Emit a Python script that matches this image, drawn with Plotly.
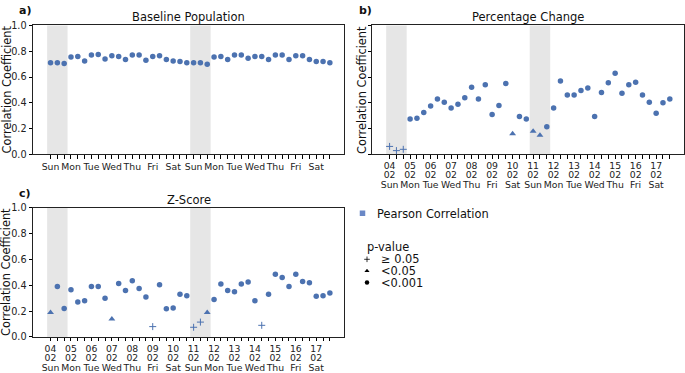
import plotly.graph_objects as go

W, H = 685, 373

# ---- data ----
day_names = ["Sun", "Mon", "Tue", "Wed", "Thu", "Fri", "Sat",
             "Sun", "Mon", "Tue", "Wed", "Thu", "Fri", "Sat"]
day_dates = ["04", "05", "06", "07", "08", "09", "10",
             "11", "12", "13", "14", "15", "16", "17"]
month = "02"
slots_per_day = 3
weekend_days = [0, 7]  # Sundays (shaded)

baseline = [0.71, 0.71, 0.705, 0.755, 0.76, 0.725, 0.77, 0.775, 0.74, 0.765,
            0.76, 0.735, 0.77, 0.77, 0.73, 0.76, 0.765, 0.735, 0.725, 0.72,
            0.71, 0.71, 0.71, 0.70, 0.755, 0.76, 0.735, 0.77, 0.77, 0.745,
            0.76, 0.76, 0.735, 0.77, 0.77, 0.735, 0.765, 0.765, 0.735, 0.72,
            0.72, 0.71]
baseline_p = ["p001"] * 42

pct_change = [0.0625, 0.03, 0.04, 0.275, 0.28, 0.325, 0.375, 0.43, 0.405, 0.36,
              0.39, 0.44, 0.52, 0.43, 0.54, 0.31, 0.38, 0.55, 0.16, 0.295,
              0.275, 0.18, 0.15, 0.215, 0.36, 0.57, 0.46, 0.46, 0.495, 0.515,
              0.295, 0.48, 0.555, 0.63, 0.475, 0.54, 0.56, 0.46, 0.405, 0.32,
              0.40, 0.43]
pct_change_p = (["ns"] * 3 + ["p001"] * 15 + ["p05"] + ["p001"] * 2 + ["p05"] * 2
                + ["p001"] * 19)

zscore = [0.19, 0.39, 0.22, 0.365, 0.27, 0.28, 0.39, 0.39, 0.30, 0.14,
          0.415, 0.36, 0.435, 0.375, 0.31, 0.08, 0.405, 0.2175, 0.225, 0.33,
          0.32, 0.075, 0.115, 0.19, 0.29, 0.41, 0.36, 0.35, 0.41, 0.425,
          0.28, 0.09, 0.33, 0.485, 0.46, 0.39, 0.485, 0.43, 0.42, 0.315,
          0.32, 0.34]
zscore_p = ["p05", "p001", "p001", "p001", "p001", "p001", "p001", "p001", "p001", "p05",
            "p001", "p001", "p001", "p001", "p001", "ns", "p001", "p001", "p001", "p001",
            "p001", "ns", "ns", "p05", "p001", "p001", "p001", "p001", "p001", "p001",
            "p001", "ns", "p001", "p001", "p001", "p001", "p001", "p001", "p001", "p001",
            "p001", "p001"]

legend_labels = {"ns": "\u2265 0.05", "p05": "<0.05", "p001": "<0.001"}

# ---- style ----
FONT = "DejaVu Sans"
BLUE = "#4c72b0"
SHADE = "#e6e6e6"
SYMBOLS = {"ns": "cross-thin", "p05": "triangle-up", "p001": "circle"}
SIZES = {"ns": 5, "p05": 6, "p001": 5.5}

def fx(p):
    return p / W

def fy(p):
    return 1 - p / H

n = len(baseline)
xs = list(range(n))

fig = go.Figure()

def add_series(vals, pcat, xa, ya):
    for cat in ["p001", "p05", "ns"]:
        px = [x for x, c in zip(xs, pcat) if c == cat]
        py = [v for v, c in zip(vals, pcat) if c == cat]
        if not px:
            continue
        mk = dict(symbol=SYMBOLS[cat], size=SIZES[cat], color=BLUE)
        if cat == "ns":
            mk["line"] = dict(color=BLUE, width=1)
        else:
            mk["line"] = dict(width=0)
        fig.add_trace(go.Scatter(x=px, y=py, mode="markers", marker=mk,
                                 xaxis=xa, yaxis=ya, showlegend=False,
                                 hoverinfo="x+y"))

add_series(baseline, baseline_p, "x", "y")
add_series(pct_change, pct_change_p, "x2", "y2")
add_series(zscore, zscore_p, "x3", "y3")

# helper traces so the extra label-row axes get drawn
for xa, ya in [("x5", "y2"), ("x6", "y2"), ("x7", "y3"), ("x8", "y3")]:
    fig.add_trace(go.Scatter(x=[None], y=[None], mode="markers", xaxis=xa, yaxis=ya,
                             showlegend=False, hoverinfo="skip"))

# tick label rows
def rows(labels):
    out = []
    for i in xs:
        out.append(labels[i // slots_per_day] if i % slots_per_day == 0 else "")
    return out

row_dates = rows(day_dates)
row_month = rows([month] * len(day_dates))
row_days = rows(day_names)

xr = [-2.575, 43.075]
TICKFONT = dict(family=FONT, size=9.3, color="#222")
common_x = dict(range=xr, tickmode="array", tickvals=xs, ticks="outside",
                ticklen=3.5, tickwidth=0.8, tickcolor="black", showline=True,
                linecolor="#222", linewidth=0.9, mirror=True, showgrid=False,
                zeroline=False, tickfont=TICKFONT, tickangle=0, fixedrange=True)
common_y = dict(range=[0, 1], tickmode="array", tickvals=[0, 0.2, 0.4, 0.6, 0.8, 1.0],
                tickformat=".1f", ticks="outside", ticklen=3.5, tickwidth=0.8,
                tickcolor="black", showline=True, linecolor="#222", linewidth=0.9,
                mirror=True, showgrid=False, zeroline=False,
                tickfont=dict(family=FONT, size=9.7, color="#222"), fixedrange=True)

def overlay_x(base, ya, dom, text, standoff):
    return dict(range=xr, tickmode="array", tickvals=xs, ticktext=text,
                ticks="outside", ticklen=3.5, tickcolor="rgba(0,0,0,0)",
                showline=False, showgrid=False, zeroline=False, tickfont=TICKFONT,
                tickangle=0, overlaying=base, anchor=ya, side="bottom",
                domain=dom, ticklabelstandoff=standoff, fixedrange=True)

ax_a = [fx(33), fx(344)]
ax_b = [fx(372), fx(684)]
ay_top = [fy(153), fy(20)]
ay_bot = [fy(341), fy(208)]

fig.update_layout(
    xaxis=dict(common_x, domain=ax_a, anchor="y", ticktext=row_days,
               ticklabelstandoff=0),
    yaxis=dict(common_y, domain=ay_top, anchor="x"),
    xaxis2=dict(common_x, domain=ax_b, anchor="y2", ticktext=row_dates,
                ticklabelstandoff=-1),
    yaxis2=dict(common_y, domain=ay_top, anchor="x2", showticklabels=False),
    xaxis3=dict(common_x, domain=ax_a, anchor="y3", ticktext=row_dates,
                ticklabelstandoff=-1),
    yaxis3=dict(common_y, domain=ay_bot, anchor="x3"),
    xaxis4=dict(domain=[fx(350), fx(460)], range=[350, 460], visible=False,
                anchor="y4", fixedrange=True),
    yaxis4=dict(domain=[fy(300), fy(200)], range=[300, 200], visible=False,
                anchor="x4", fixedrange=True),
    xaxis5=overlay_x("x2", "y2", ax_b, row_month, 8),
    xaxis6=overlay_x("x2", "y2", ax_b, row_days, 18),
    xaxis7=overlay_x("x3", "y3", ax_a, row_month, 8),
    xaxis8=overlay_x("x3", "y3", ax_a, row_days, 18),
)

shapes = []
for xa, ya in [("x", "y"), ("x2", "y2"), ("x3", "y3")]:
    for d in weekend_days:
        shapes.append(dict(type="rect", xref=xa, yref=f"{ya} domain",
                           x0=d * slots_per_day - 0.5,
                           x1=d * slots_per_day + slots_per_day - 0.5,
                           y0=0, y1=1, fillcolor=SHADE, line=dict(width=0),
                           layer="below"))

annotations = []
# titles
for txt, xc, yc in [("Baseline Population", (33 + 344) / 2, 11.5),
                    ("Percentage Change", (372 + 684) / 2, 11.5),
                    ("Z-Score", (33 + 344) / 2, 199.5)]:
    annotations.append(dict(text=txt, x=fx(xc), y=fy(yc), xref="paper", yref="paper",
                            xanchor="center", yanchor="middle", showarrow=False,
                            font=dict(family=FONT, size=11.5, color="#111")))
# y titles
for xc, yc in [(6.5, 86.5), (362, 86.5), (6.5, 274.5)]:
    annotations.append(dict(text="Correlation Coefficient", x=fx(xc), y=fy(yc),
                            xref="paper", yref="paper", xanchor="center",
                            yanchor="middle", textangle=-90, showarrow=False,
                            font=dict(family=FONT, size=11.4, color="#111")))
# panel letters
for txt, xc, yc in [("a)", 25, 5), ("b)", 365, 5), ("c)", 25, 193)]:
    annotations.append(dict(text=f"<b>{txt}</b>", x=fx(xc), y=fy(yc), xref="paper",
                            yref="paper", xanchor="center", yanchor="middle",
                            showarrow=False,
                            font=dict(family=FONT, size=11, color="#111")))

# legend
leg_font = dict(family=FONT, size=11.4, color="#111")
annotations.append(dict(text="Pearson Correlation", x=fx(375), y=fy(214), xref="paper",
                        yref="paper", xanchor="left", yanchor="middle",
                        showarrow=False, font=leg_font))
annotations.append(dict(text="p-value", x=fx(365), y=fy(248.5), xref="paper",
                        yref="paper", xanchor="left", yanchor="middle",
                        showarrow=False, font=leg_font))
leg_rows = [("ns", 261), ("p05", 273), ("p001", 285)]
for cat, yy in leg_rows:
    annotations.append(dict(text=legend_labels[cat], x=fx(379), y=fy(yy),
                            xref="paper", yref="paper", xanchor="left",
                            yanchor="middle", showarrow=False, font=leg_font))

# legend keys
fig.add_trace(go.Scatter(x=[362.5], y=[213.5], mode="markers", xaxis="x4", yaxis="y4",
                         marker=dict(symbol="square", size=5.5, color="#6a88c6"),
                         showlegend=False, hoverinfo="skip"))
for cat, yy in leg_rows:
    mk = dict(symbol=SYMBOLS[cat], size=4.5 if cat != "ns" else 4, color="black")
    if cat == "ns":
        mk["line"] = dict(color="black", width=0.8)
    fig.add_trace(go.Scatter(x=[367], y=[yy], mode="markers", xaxis="x4", yaxis="y4",
                             marker=mk, showlegend=False, hoverinfo="skip"))

fig.update_layout(
    width=W, height=H,
    margin=dict(l=0, r=0, t=0, b=0),
    paper_bgcolor="white", plot_bgcolor="white",
    shapes=shapes, annotations=annotations,
    font=dict(family=FONT, size=10, color="#111"),
    showlegend=False,
)

fig.write_html("out.html", config={"displayModeBar": False},
               post_script="document.body.style.margin='0';")
